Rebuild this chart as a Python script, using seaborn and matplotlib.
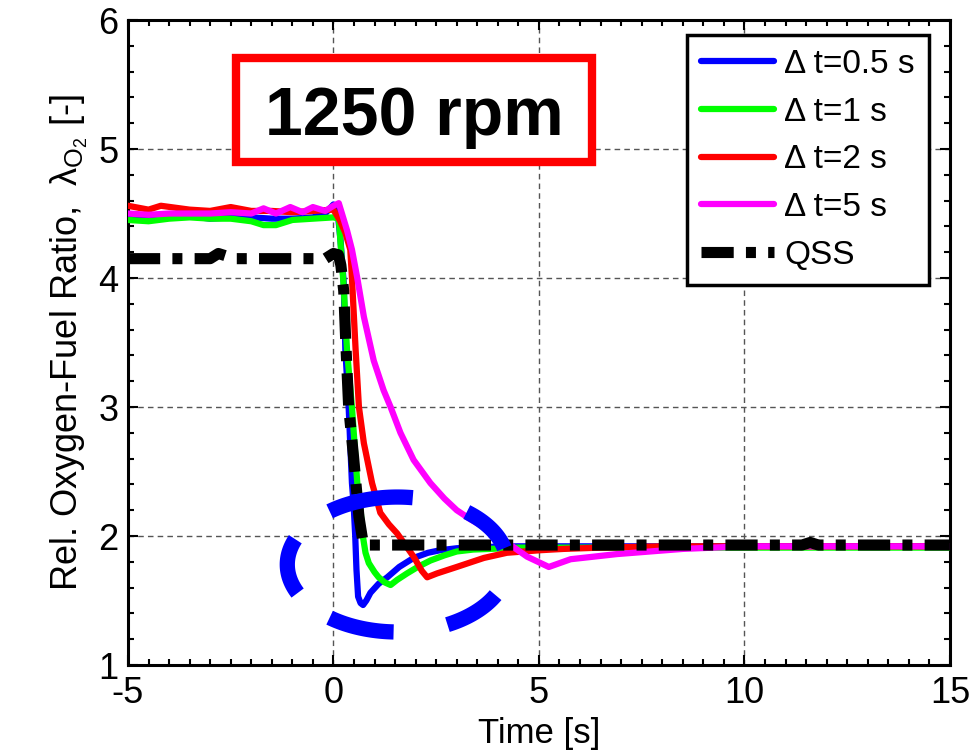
import numpy as np
import pandas as pd
import matplotlib
matplotlib.use("Agg")
import matplotlib.pyplot as plt
import seaborn as sns
from matplotlib.ticker import MultipleLocator
from matplotlib.patches import Rectangle

# ---------------- data ----------------
LABELS = ["Δ t=0.5 s", "Δ t=1 s", "Δ t=2 s", "Δ t=5 s", "QSS"]
X_TICKS = [-5, 0, 5, 10, 15]
Y_TICKS = [1, 2, 3, 4, 5, 6]
TITLE = "1250 rpm"

T_BLUE = [-5, -4.5, -4, -3.5, -3, -2.5, -2, -1.5, -1, -0.5, -0.2, 0.0, 0.1, 0.17,
          0.25, 0.29, 0.37, 0.45, 0.49, 0.53, 0.56, 0.6, 0.66, 0.72, 0.8, 0.9, 1.1,
          1.31, 1.6, 1.95, 2.3, 2.6, 3.0, 3.6, 4.5, 6, 8, 10, 12, 15]
L_BLUE = [4.47, 4.45, 4.47, 4.48, 4.46, 4.47, 4.47, 4.46, 4.46, 4.47, 4.50, 4.57, 4.52, 4.3,
          3.96, 3.44, 3.0, 2.41, 2.25, 2.0, 1.74, 1.53, 1.48, 1.465, 1.5, 1.56, 1.63,
          1.68, 1.76, 1.83, 1.87, 1.89, 1.905, 1.915, 1.92, 1.92, 1.92, 1.92, 1.92, 1.92]

T_GREEN = [-5, -4.5, -4, -3.5, -3, -2.5, -2, -1.7, -1.4, -1, -0.5, 0, 0.13, 0.25, 0.33,
           0.45, 0.58, 0.66, 0.72, 0.78, 0.86, 1.0, 1.1, 1.25, 1.39, 1.55, 1.79, 2.05,
           2.36, 2.7, 3.0, 3.4, 3.8, 4.5, 6, 8, 10, 12, 15]
L_GREEN = [4.45, 4.44, 4.46, 4.47, 4.46, 4.46, 4.44, 4.41, 4.41, 4.45, 4.46, 4.47, 4.46, 3.93,
           3.44, 3.0, 2.41, 2.2, 1.99, 1.87, 1.79, 1.72, 1.68, 1.64, 1.62, 1.66, 1.71, 1.76,
           1.81, 1.85, 1.88, 1.895, 1.90, 1.91, 1.91, 1.91, 1.91, 1.91, 1.91]

T_RED = [-5, -4.5, -4.2, -3.5, -3, -2.5, -2, -1.5, -1, -0.5, 0, 0.15, 0.29, 0.41, 0.45,
         0.54, 0.62, 0.74, 0.94, 1.14, 1.35, 1.55, 1.75, 1.95, 2.15, 2.28, 2.52, 3.0,
         3.66, 4.22, 5.04, 5.6, 6.5, 8, 10, 12, 15]
L_RED = [4.56, 4.53, 4.56, 4.53, 4.52, 4.55, 4.52, 4.52, 4.51, 4.52, 4.53, 4.45, 4.35, 4.22,
         4.0, 3.44, 3.0, 2.72, 2.41, 2.18, 2.09, 2.02, 1.93, 1.84, 1.73, 1.68, 1.71, 1.76,
         1.83, 1.87, 1.89, 1.90, 1.91, 1.92, 1.92, 1.92, 1.92]

T_MAG = [-5, -4.5, -4, -3.5, -3, -2.5, -2, -1.7, -1.4, -1.05, -0.75, -0.5, -0.2, 0, 0.13,
         0.33, 0.45, 0.58, 0.74, 0.98, 1.22, 1.39, 1.63, 1.95, 2.36, 2.7, 3.0, 3.33,
         3.66, 3.95, 4.22, 4.71, 5.24, 5.77, 6.9, 8.5, 10, 12, 15]
L_MAG = [4.50, 4.49, 4.50, 4.50, 4.50, 4.51, 4.50, 4.54, 4.50, 4.55, 4.51, 4.55, 4.52, 4.56,
         4.58, 4.37, 4.22, 4.0, 3.70, 3.36, 3.13, 3.0, 2.80, 2.59, 2.41, 2.29, 2.20, 2.13,
         2.07, 2.0, 1.95, 1.84, 1.76, 1.82, 1.86, 1.90, 1.92, 1.92, 1.92]

T_QSS = [-5, -3.0, -2.8, -2.6, -2.4, -0.2, 0.0, 0.12, 0.18, 0.25, 0.3, 0.37, 0.49,
         0.62, 0.72, 0.8, 11.4, 11.6, 11.8, 15]
L_QSS = [4.15, 4.15, 4.19, 4.17, 4.15, 4.15, 4.19, 4.18, 4.1, 3.9, 3.5, 3.0, 2.61,
         2.15, 1.95, 1.93, 1.93, 1.95, 1.93, 1.93]

SERIES = [(LABELS[0], T_BLUE, L_BLUE), (LABELS[1], T_GREEN, L_GREEN),
          (LABELS[2], T_RED, L_RED), (LABELS[3], T_MAG, L_MAG), (LABELS[4], T_QSS, L_QSS)]

# ---------------- styling ----------------
COLORS = ["#0000ff", "#00ff00", "#ff0000", "#ff00ff", "#000000"]

sns.set_theme(style="ticks")
plt.rcParams["font.family"] = ["Liberation Sans", "DejaVu Sans"]
plt.rcParams["mathtext.fontset"] = "custom"
plt.rcParams["mathtext.rm"] = "Liberation Sans"
plt.rcParams["mathtext.it"] = "Liberation Sans:italic"
plt.rcParams["axes.unicode_minus"] = False
for k in ["text.color", "axes.labelcolor", "xtick.color", "ytick.color",
          "xtick.labelcolor", "ytick.labelcolor", "axes.edgecolor"]:
    plt.rcParams[k] = "black"

fig = plt.figure(figsize=(9.76, 7.55), dpi=100)
ax = fig.add_axes([0.1311, 0.1192, 0.8422, 0.8543])

for (name, t, lam), col in zip(SERIES, COLORS):
    df = pd.DataFrame({"Time": t, "lam": lam})
    if name == "QSS":
        sns.lineplot(data=df, x="Time", y="lam", ax=ax, color=col, lw=8,
                     linestyle=(0, (2.9, 1.1, 0.9, 1.1)), dash_capstyle="butt",
                     label=name, sort=False, estimator=None, zorder=5)
    else:
        sns.lineplot(data=df, x="Time", y="lam", ax=ax, color=col, lw=4.5,
                     solid_joinstyle="round", label=name, sort=False,
                     estimator=None, zorder=4)

# dashed highlight ellipse (annotation)
E_CX, E_CY, E_A, E_B = 1.557, 1.779, 2.68, 0.523
E_ARCS = [(14, 51), (82, 128), (158, 205), (232, 268), (297, 333)]
for a0, a1 in E_ARCS:
    th = np.radians(np.linspace(a0, a1, 60))
    ax.plot(E_CX + E_A * np.cos(th), E_CY + E_B * np.sin(th), color="#0000ff",
            lw=11, solid_capstyle="butt", zorder=6)

ax.set_xlim(-5, 15)
ax.set_ylim(1, 6)
ax.set_xticks(X_TICKS)
ax.set_yticks(Y_TICKS)
ax.set_xticklabels([str(v) for v in X_TICKS])
ax.set_yticklabels([str(v) for v in Y_TICKS])
ax.xaxis.set_minor_locator(MultipleLocator(0.5))
ax.yaxis.set_minor_locator(MultipleLocator(0.2))
ax.tick_params(which="both", direction="in", top=True, right=True, width=1.5,
               colors="black")
ax.tick_params(which="major", length=7, labelsize=26)
ax.tick_params(axis="x", which="major", pad=8)
ax.tick_params(axis="y", which="major", pad=7)
ax.tick_params(which="minor", length=4)
ax.grid(True, which="major", color="#555555", linestyle=(0, (4, 3)), lw=1.0)
ax.set_axisbelow(True)
for sp in ax.spines.values():
    sp.set_linewidth(2.2)
    sp.set_color("black")
    sp.set_visible(True)

ax.set_xlabel("Time [s]", fontsize=25, labelpad=4)
ax.set_ylabel(r"Rel. Oxygen-Fuel Ratio,  $\mathrm{\lambda}_{\mathrm{O}_2}$ [-]",
              fontsize=26, labelpad=6)

# title box
ax.add_patch(Rectangle((0.131, 0.780), 0.434, 0.161, transform=ax.transAxes,
                       facecolor="white", edgecolor="#ff0000", lw=6, zorder=7))
ax.text(0.3486, 0.8217, TITLE, transform=ax.transAxes, ha="center", va="baseline",
        fontsize=49, fontweight="bold", color="black", zorder=8)

leg = ax.legend(loc="upper right", bbox_to_anchor=(0.9745, 0.9767), borderaxespad=0,
                fontsize=24, frameon=True, fancybox=False, edgecolor="black",
                framealpha=1, handlelength=2.2, handletextpad=0.3,
                labelspacing=0.5, borderpad=0.42)
leg.get_frame().set_linewidth(2.5)
leg.set_zorder(10)

fig.savefig("out.png", dpi=100)
